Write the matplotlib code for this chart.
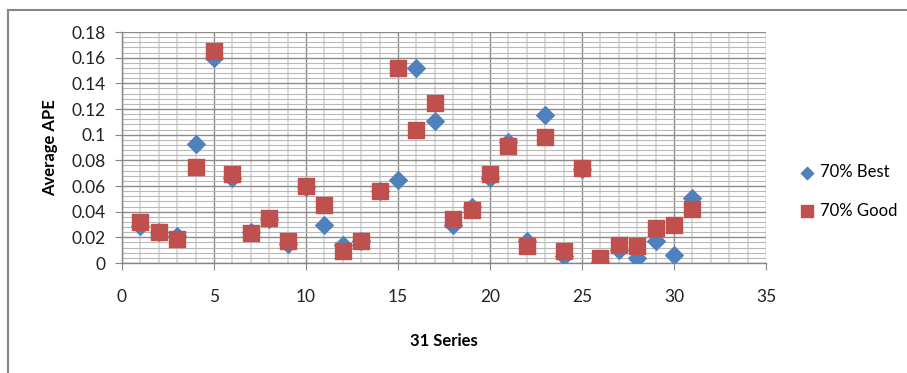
import numpy as np
import matplotlib.pyplot as plt
from matplotlib.lines import Line2D
from matplotlib.ticker import MultipleLocator

series = np.arange(1, 32)

best = [0.029, 0.024, 0.021, 0.093, 0.160, 0.066, 0.024, 0.034, 0.015, 0.059,
        0.030, 0.014, 0.017, 0.056, 0.065, 0.152, 0.111, 0.030, 0.044, 0.066,
        0.094, 0.017, 0.115, 0.0055, 0.073, 0.001, 0.010, 0.004, 0.017, 0.006,
        0.051]

good = [0.032, 0.024, 0.019, 0.075, 0.165, 0.069, 0.023, 0.035, 0.017, 0.060,
        0.045, 0.009, 0.017, 0.056, 0.152, 0.104, 0.125, 0.034, 0.041, 0.069,
        0.091, 0.013, 0.098, 0.009, 0.074, 0.004, 0.014, 0.013, 0.027, 0.030,
        0.042]

plt.rcParams['font.family'] = ['Lato', 'DejaVu Sans']

fig = plt.figure(figsize=(9.07, 3.73), dpi=100)
ax = fig.add_axes([122 / 907, 110 / 373, 644 / 907, 231 / 373])

# chart border (left, top)
fig.add_artist(Line2D([8 / 907, 8 / 907], [0, 363 / 373], color='#868686', lw=1.5))
fig.add_artist(Line2D([8 / 907, 1], [363 / 373, 363 / 373], color='#868686', lw=1.5))

ax.scatter(series, best, marker='D', s=80, color='#4F81BD', zorder=3, label='70% Best')
ax.scatter(series, good, marker='s', s=130, color='#C0504D', zorder=4, label='70% Good')

ax.set_xlim(0, 35)
ax.set_ylim(0, 0.18)
ax.xaxis.set_major_locator(MultipleLocator(5))
ax.xaxis.set_minor_locator(MultipleLocator(1))
ax.yaxis.set_minor_locator(MultipleLocator(0.004))
ax.set_yticks(np.arange(0, 0.181, 0.02))
ax.set_yticklabels(['0', '0.02', '0.04', '0.06', '0.08', '0.1', '0.12', '0.14', '0.16', '0.18'])

ax.grid(which='major', color='#8c8c8c', lw=1.0, zorder=1)
ax.grid(which='minor', axis='x', color='#d4d4d4', lw=1.2, zorder=0)
ax.grid(which='minor', axis='y', color='#b8b8b8', lw=0.8, zorder=0)
ax.set_axisbelow(True)

for s in ['top', 'right']:
    ax.spines[s].set_visible(False)
for s in ['left', 'bottom']:
    ax.spines[s].set_color('#868686')
    ax.spines[s].set_linewidth(1.0)

ax.tick_params(which='major', length=5, color='#868686', labelsize=12.5, pad=7, labelcolor='#222222')
ax.tick_params(axis='x', which='major', pad=14)
ax.tick_params(which='minor', length=0)

ax.set_xlabel('31 Series', fontsize=12, fontweight='bold', labelpad=20)
ax.set_ylabel('Average APE', fontsize=12, fontweight='bold', labelpad=9)

ax.legend(loc='center left', bbox_to_anchor=(1.05, 0.31), frameon=False, fontsize=12,
          borderpad=0, borderaxespad=0, handlelength=1.0, handletextpad=0.3,
          labelspacing=1.35, markerscale=0.7)

fig.savefig('out.png', dpi=100)
